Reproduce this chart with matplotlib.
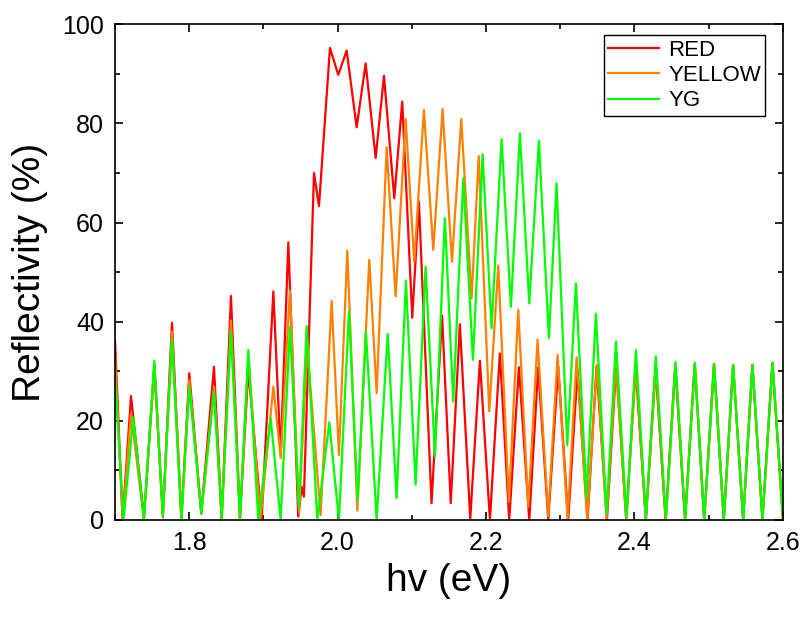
import numpy as np
import matplotlib
matplotlib.use("Agg")
import matplotlib.pyplot as plt
from matplotlib.ticker import MultipleLocator

plt.rcParams["font.family"] = ["Liberation Sans", "DejaVu Sans"]

# extrema (photon energy in eV, reflectivity in %)
red_ev = [1.700, 1.7103, 1.7216, 1.7390, 1.7530, 1.7645, 1.7768, 1.7895, 1.8001, 1.8163,
          1.8334, 1.8438, 1.8563, 1.8684, 1.8797, 1.8976, 1.9134, 1.9233, 1.9336, 1.9470,
          1.9515, 1.9546, 1.9682, 1.9749, 1.9897, 2.0009, 2.0122, 2.0257, 2.0378, 2.0513,
          2.0625, 2.0764, 2.0871, 2.1006, 2.1096, 2.1266, 2.1408, 2.1525, 2.1648, 2.1788,
          2.1918, 2.2053, 2.2187, 2.2313, 2.2444, 2.2583, 2.2704, 2.2839, 2.2974, 2.3108,
          2.3234, 2.3368, 2.3490, 2.3630, 2.3755, 2.3890, 2.4015, 2.4155, 2.4285, 2.4420,
          2.4550, 2.4682, 2.4812, 2.4941, 2.5072, 2.5205, 2.5330, 2.5466, 2.5590, 2.5725,
          2.5860, 2.6000]
red_r = [36.3, 0.0, 25.0, 0.5, 31.0, 0.7, 39.8, 0.2, 29.6, 1.3,
         30.9, 0.3, 45.2, 0.3, 30.3, 0.0, 46.1, 13.1, 56.0, 0.7,
         6.7, 4.7, 70.0, 63.3, 95.2, 89.8, 94.7, 79.2, 92.1, 73.0,
         89.6, 64.9, 84.4, 40.8, 64.2, 3.4, 41.2, 3.4, 39.5, 0.3,
         32.1, 0.0, 33.6, 0.0, 30.8, 0.0, 30.8, 0.0, 30.9, 0.0,
         30.3, 0.0, 30.9, 0.0, 31.3, 0.0, 30.9, 0.0, 30.8, 0.0,
         31.3, 0.0, 31.5, 0.0, 31.5, 0.0, 31.3, 0.0, 31.3, 0.0,
         31.7, 0.5]

yellow_ev = [1.700, 1.7103, 1.7216, 1.7390, 1.7530, 1.7645, 1.7768, 1.7895, 1.8001, 1.8163,
             1.8334, 1.8438, 1.8563, 1.8684, 1.8797, 1.8960, 1.9134, 1.9233, 1.9358, 1.9480,
             1.9590, 1.9771, 1.9920, 2.0018, 2.0131, 2.0266, 2.0427, 2.0526, 2.0661, 2.0782,
             2.0917, 2.1033, 2.1163, 2.1289, 2.1415, 2.1541, 2.1667, 2.1806, 2.1902, 2.2044,
             2.2165, 2.2309, 2.2435, 2.2570, 2.2695, 2.2839, 2.2965, 2.3099, 2.3221, 2.3364,
             2.3495, 2.3625, 2.3751, 2.3890, 2.4020, 2.4155, 2.4289, 2.4424, 2.4554, 2.4685,
             2.4815, 2.4941, 2.5075, 2.5205, 2.5331, 2.5466, 2.5591, 2.5727, 2.5862, 2.6000]
yellow_r = [33.0, 0.0, 21.5, 0.0, 31.5, 0.5, 38.0, 0.2, 28.2, 1.3,
            26.9, 0.3, 40.3, 0.3, 33.0, 0.0, 26.9, 12.5, 46.3, 1.5,
            35.0, 1.0, 44.2, 13.1, 54.3, 1.9, 52.5, 25.6, 75.2, 45.1,
            80.9, 52.1, 82.7, 54.5, 82.9, 52.1, 80.9, 44.7, 73.4, 21.9,
            51.3, 3.7, 42.4, 2.7, 36.4, 0.7, 33.3, 0.0, 32.8, 0.0,
            31.3, 0.0, 31.3, 0.0, 30.9, 0.0, 30.8, 0.0, 31.3, 0.0,
            31.5, 0.0, 31.5, 0.0, 31.3, 0.0, 31.3, 0.0, 31.7, 0.5]

yg_ev = [1.700, 1.7115, 1.7247, 1.7390, 1.7530, 1.7645, 1.7768, 1.7895, 1.8001, 1.8163,
         1.8334, 1.8438, 1.8563, 1.8684, 1.8797, 1.8931, 1.9098, 1.9233, 1.9358, 1.9480,
         1.9583, 1.9727, 1.9888, 2.0018, 2.0153, 2.0270, 2.0382, 2.0526, 2.0675, 2.0795,
         2.0921, 2.1051, 2.1186, 2.1312, 2.1446, 2.1559, 2.1694, 2.1824, 2.1954, 2.2075,
         2.2210, 2.2336, 2.2457, 2.2583, 2.2713, 2.2848, 2.2951, 2.3095, 2.3212, 2.3355,
         2.3481, 2.3625, 2.3751, 2.3894, 2.4020, 2.4155, 2.4289, 2.4424, 2.4554, 2.4685,
         2.4815, 2.4941, 2.5075, 2.5205, 2.5331, 2.5466, 2.5591, 2.5727, 2.5862, 2.6000]
yg_r = [28.6, 0.0, 20.7, 0.0, 32.1, 0.7, 36.3, 0.2, 26.9, 1.3,
        25.9, 0.3, 38.0, 0.3, 34.3, 0.0, 20.5, 0.0, 38.9, 2.7,
        39.1, 0.0, 19.7, 0.0, 42.0, 4.0, 38.0, 0.0, 37.5, 4.4,
        48.3, 7.1, 51.1, 12.8, 60.9, 23.9, 68.9, 32.3, 73.8, 38.7,
        76.8, 43.0, 78.0, 43.7, 76.5, 36.7, 67.9, 15.1, 47.7, 4.4,
        41.6, 1.3, 36.0, 0.3, 34.2, 0.3, 33.0, 0.0, 31.9, 0.0,
        31.7, 0.0, 31.5, 0.0, 31.3, 0.0, 31.3, 0.0, 31.7, 1.0]

fig = plt.figure(figsize=(8.07, 6.22), dpi=100)
ax = fig.add_axes([0.1425, 0.164, 0.8275, 0.797])

ax.plot(red_ev, red_r, c="#ff0000", lw=1.6, label="RED")
ax.plot(yellow_ev, yellow_r, c="#ff8000", lw=1.6, label="YELLOW")
ax.plot(yg_ev, yg_r, c="#00ff00", lw=1.6, label="YG")

ax.set_xlim(1.7, 2.6)
ax.set_ylim(0, 100)
ax.xaxis.set_major_locator(MultipleLocator(0.2))
ax.xaxis.set_minor_locator(MultipleLocator(0.1))
ax.yaxis.set_major_locator(MultipleLocator(20))
ax.yaxis.set_minor_locator(MultipleLocator(10))
ax.set_xticks([1.8, 2.0, 2.2, 2.4, 2.6])
ax.set_xticklabels(["1.8", "2.0", "2.2", "2.4", "2.6"])
ax.tick_params(which="both", direction="in", top=True, right=True, width=1.2,
               labelsize=18)
ax.tick_params(which="major", length=6)
ax.tick_params(which="minor", length=3.5)
ax.tick_params(axis="x", pad=8)
ax.tick_params(axis="y", pad=8)
for s in ax.spines.values():
    s.set_linewidth(1.2)

ax.set_xlabel("hv (eV)", fontsize=28, labelpad=6)
ax.set_ylabel("Reflectivity (%)", fontsize=28, labelpad=10)

leg = ax.legend(loc="upper right", bbox_to_anchor=(0.974, 0.978), borderaxespad=0,
                fontsize=16, handlelength=2.3, handletextpad=0.4, labelspacing=0.2,
                borderpad=0.2, fancybox=False, edgecolor="black", framealpha=1)
leg.get_frame().set_linewidth(1.0)

fig.savefig("out.png", dpi=100)
